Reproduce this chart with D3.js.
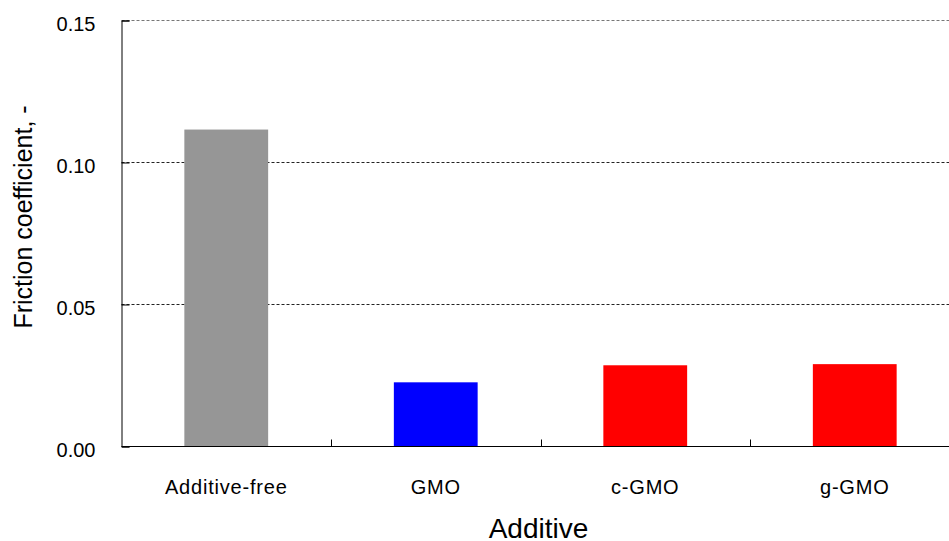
<!DOCTYPE html>
<html>
<head>
<meta charset="utf-8">
<script src="https://d3js.org/d3.v7.min.js"></script>
<style>
  body { margin: 0; background: #fff; }
  svg { display: block; font-family: "Liberation Sans", Arial, sans-serif; }
</style>
</head>
<body>
<div id="chart"></div>
<script>
// Chart data.
const additives = ["Additive-free", "GMO", "c-GMO", "g-GMO"];
const friction = [0.1116, 0.0226, 0.0286, 0.0290];
const barColors = ["#969696", "#0000ff", "#ff0000", "#ff0000"];
const yTicks = [0, 0.05, 0.10, 0.15];

const width = 949;
const height = 541;

// Plot area (the right side runs past the picture edge, as in the original).
const plotLeft = 121.5, plotRight = 959.5, plotTop = 20.5, plotBottom = 446.5;

const x = d3.scaleBand()
    .domain(additives)
    .range([plotLeft, plotRight])
    .paddingInner(0.6)
    .paddingOuter(0.3);

const y = d3.scaleLinear()
    .domain([0, 0.15])
    .range([plotBottom, plotTop]);

const svg = d3.select("#chart").append("svg")
    .attr("width", width)
    .attr("height", height)
    .attr("viewBox", [0, 0, width, height]);

// Dashed gridlines.
svg.append("g")
  .selectAll("line")
  .data(yTicks.filter(d => d > 0))
  .join("line")
    .attr("x1", plotLeft)
    .attr("x2", plotRight)
    .attr("y1", d => y(d))
    .attr("y2", d => y(d))
    .attr("stroke", d => d === 0.15 ? "#777" : "#222")
    .attr("stroke-width", 1)
    .attr("stroke-dasharray", "3,2");

// Bars.
svg.append("g")
  .selectAll("rect")
  .data(additives)
  .join("rect")
    .attr("x", d => x(d))
    .attr("width", x.bandwidth())
    .attr("y", (d, i) => y(friction[i]))
    .attr("height", (d, i) => y(0) - y(friction[i]))
    .attr("fill", (d, i) => barColors[i]);

// Y axis: inward ticks, labels on the left.
const yAxis = svg.append("g")
    .attr("transform", `translate(${plotLeft},0)`)
    .call(d3.axisLeft(y).tickValues(yTicks).tickSize(-8).tickPadding(26)
        .tickFormat(d3.format(".2f")));
yAxis.select(".domain").attr("stroke", "#000");
yAxis.selectAll(".tick line").attr("stroke", "#000");
yAxis.selectAll("text")
    .attr("font-size", "20px")
    .attr("font-family", "Liberation Sans, Arial, sans-serif")
    .attr("fill", "#000")
    .attr("dy", "0.5em");

// X axis: baseline, inward ticks at category boundaries.
const step = x.step();
const bounds = additives.map(d => x(d) - step * x.paddingInner() / 2).concat([plotRight]);

svg.append("line")
    .attr("x1", plotLeft).attr("x2", plotRight)
    .attr("y1", plotBottom).attr("y2", plotBottom)
    .attr("stroke", "#000");

svg.append("g")
  .selectAll("line")
  .data(bounds.slice(1))
  .join("line")
    .attr("x1", d => Math.round(d) + 0.5)
    .attr("x2", d => Math.round(d) + 0.5)
    .attr("y1", plotBottom)
    .attr("y2", plotBottom - 7)
    .attr("stroke", "#000");

svg.append("g")
    .attr("text-anchor", "middle")
  .selectAll("text")
  .data(additives)
  .join("text")
    .attr("x", d => x(d) + x.bandwidth() / 2)
    .attr("y", plotBottom + 47)
    .attr("font-size", "20px")
    .attr("letter-spacing", "0.8px")
    .attr("fill", "#000")
    .text(d => d);

// Axis titles.
svg.append("text")
    .attr("x", (plotLeft + plotRight) / 2 - 2)
    .attr("y", 538)
    .attr("text-anchor", "middle")
    .attr("font-size", "28px")
    .attr("fill", "#000")
    .text("Additive");

svg.append("text")
    .attr("transform", "translate(32,217) rotate(-90)")
    .attr("text-anchor", "middle")
    .attr("font-size", "25px")
    .attr("fill", "#000")
    .text("Friction coefficient, -");
</script>
</body>
</html>
